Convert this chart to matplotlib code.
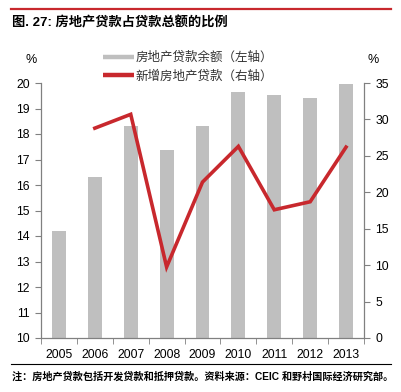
import matplotlib
matplotlib.use("Agg")
import matplotlib.pyplot as plt
from matplotlib.lines import Line2D
import numpy as np

years = ["2005", "2006", "2007", "2008", "2009", "2010", "2011", "2012", "2013"]
share_pct = [14.21, 16.33, 18.3, 17.38, 18.3, 19.65, 19.54, 19.43, 19.96]
new_loan_years = ["2006", "2007", "2008", "2009", "2010", "2011", "2012", "2013"]
new_loan_pct = [28.8, 30.7, 9.75, 21.4, 26.3, 17.6, 18.7, 26.2]

title = "图. 27: 房地产贷款占贷款总额的比例"
label_bar = "房地产贷款余额（左轴）"
label_line = "新增房地产贷款（右轴）"
footnote = "注：房地产贷款包括开发贷款和抵押贷款。资料来源：CEIC 和野村国际经济研究部。"

plt.rcParams['font.family'] = ['Liberation Sans', 'Noto Sans CJK SC']

W, H = 401, 392
fig = plt.figure(figsize=(W / 100, H / 100), dpi=100)
ax = fig.add_axes([41 / W, 1 - 338 / H, (364 - 41) / W, (338 - 83) / H])
ax2 = ax.twinx()

grey = "#BFBFBF"
red = "#C8282D"
axc = "#808080"

x = np.arange(len(years))
ax.bar(x, share_pct, width=0.39, color=grey, bottom=0, zorder=1)
ax.set_ylim(10, 20)
ax.set_xlim(-0.5, len(years) - 0.5)
ax.set_yticks(np.arange(10, 21, 1))

xl = [years.index(y) for y in new_loan_years]
ax2.plot(xl, new_loan_pct, color=red, lw=2.6, solid_joinstyle='miter', zorder=3)
ax2.set_ylim(0, 35)
ax2.set_yticks(np.arange(0, 36, 5))

ax.set_xticks(x)
ax.set_xticklabels(years)
ax.set_xticks(np.arange(-0.5, len(years), 1), minor=True)
ax.tick_params(axis='x', which='major', length=0, pad=8, labelsize=8.8)
ax.tick_params(axis='x', which='minor', length=4, color=axc, direction='out')
ax.tick_params(axis='y', length=4, color=axc, labelsize=8.8, pad=4)
ax2.tick_params(axis='y', length=4, color=axc, labelsize=8.8, pad=4)

for a in (ax, ax2):
    a.spines['top'].set_visible(False)
    for s in ['left', 'right', 'bottom']:
        a.spines[s].set_color(axc)
        a.spines[s].set_linewidth(0.9)
ax.spines['right'].set_visible(False)
ax2.spines['left'].set_visible(False)
ax2.spines['bottom'].set_visible(False)

# % labels
fig.text(31 / W, 1 - 60 / H, "%", ha='center', va='center', fontsize=9)
fig.text(373 / W, 1 - 60 / H, "%", ha='center', va='center', fontsize=9)

handles = [Line2D([], [], color=grey, lw=3.2, solid_capstyle='butt'),
           Line2D([], [], color=red, lw=3.2, solid_capstyle='butt')]
fig.legend(handles, [label_bar, label_line], loc='upper left',
           bbox_to_anchor=(103 / W, 1 - 51 / H), frameon=False,
           borderpad=0, borderaxespad=0, handlelength=2.5, handletextpad=0.1,
           labelspacing=0.45, labelcolor='#333333',
           prop={'size': 9, 'family': ['Noto Sans CJK SC']})

# top red rule and title
fig.add_artist(Line2D([11 / W, 391 / W], [1 - 8.5 / H, 1 - 8.5 / H], color=red, lw=1.6))
fig.text(12 / W, 1 - 23 / H, title, ha='left', va='center', fontsize=9.5, fontweight='bold')

# bottom rule and footnote
fig.add_artist(Line2D([11 / W, 391 / W], [1 - 364 / H, 1 - 364 / H], color='black', lw=0.8))
fig.text(12 / W, 1 - 377 / H, footnote, ha='left', va='center', fontsize=7.3, fontweight='bold')

fig.savefig("out.png", dpi=100)
